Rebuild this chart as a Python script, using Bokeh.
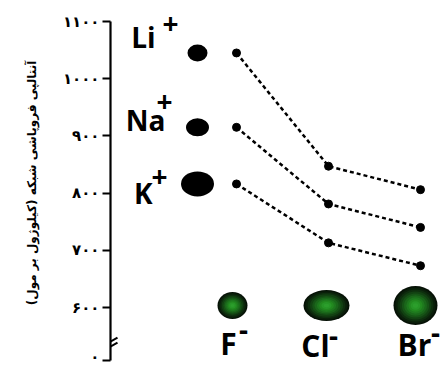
from bokeh.plotting import figure
from bokeh.models import FixedTicker, Range1d, Title
from bokeh.core.properties import value
from bokeh.embed import file_html
from bokeh.resources import INLINE

# ---------------- data ----------------
cations = ["Li", "Na", "K"]
anions = ["F", "Cl", "Br"]
li_values = [1045, 847, 806]   # LiF, LiCl, LiBr
na_values = [915, 781, 740]    # NaF, NaCl, NaBr
k_values = [816, 713, 673]     # KF, KCl, KBr
y_ticks = [600, 700, 800, 900, 1000, 1100]
y_tick_labels = ["۶۰۰", "۷۰۰", "۸۰۰", "۹۰۰", "۱۰۰۰", "۱۱۰۰"]
zero_label = "۰"
y_label = "آنتالپی فروپاشی شبکه (کیلوژول بر مول)"

# ---------------- layout / style constants ----------------
PX_X = 92.0          # screen px per anion step
PX_Y = 0.572         # screen px per kJ/mol
ZERO_TICK = 507      # position of the broken-axis "0" tick
BREAK_Y = 536        # where the axis break marks sit
ANION_ROW = 603.5    # vertical level of the anion spheres
CATION_X = 1 - 39 / PX_X
anion_x = [1, 2, 3]
x_start = 1 - 126 / PX_X
x_end = x_start + 337 / PX_X

p = figure(width=447, height=365,
           x_range=Range1d(x_start, x_end),
           y_range=Range1d(600 - 58 / PX_Y, 1100 + 21 / PX_Y),
           x_axis_location=None, y_axis_location="left",
           toolbar_location=None, output_backend="svg",
           min_border_left=110, min_border_right=0,
           min_border_top=0, min_border_bottom=0)
p.outline_line_color = None
p.grid.visible = False
p.background_fill_color = "white"
p.border_fill_color = "white"

ax = p.yaxis[0]
ax.ticker = FixedTicker(ticks=[ZERO_TICK] + y_ticks)
overrides = {t: l for t, l in zip(y_ticks, y_tick_labels)}
overrides[ZERO_TICK] = zero_label
ax.major_label_overrides = overrides
ax.bounds = (ZERO_TICK, y_ticks[-1])
ax.axis_line_width = 2.2
ax.axis_line_color = "black"
ax.major_tick_line_width = 2
ax.major_tick_line_color = "black"
ax.major_tick_out = 8
ax.major_tick_in = 0
ax.minor_tick_line_color = None
ax.major_label_standoff = 3
ax.major_label_text_font = "DejaVu Sans"
ax.major_label_text_font_style = "bold"
ax.major_label_text_font_size = "15px"
ax.major_label_text_color = "black"

# vertical quantity label, left of the axis
p.add_layout(Title(text=y_label, align="center", offset=-36, standoff=42,
                   text_font="DejaVu Sans", text_font_style="bold",
                   text_font_size="12px", text_color="black"), "left")

# axis break marks
gap_half = 2.5 / PX_Y
p.quad(left=[x_start - 3 / PX_X], right=[x_start + 3 / PX_X],
       bottom=[BREAK_Y - gap_half], top=[BREAK_Y + gap_half],
       fill_color="white", line_color=None)
for dy in (-gap_half, gap_half):
    p.segment(x0=[x_start - 7 / PX_X], y0=[BREAK_Y + dy - 4 / PX_Y],
              x1=[x_start + 7 / PX_X], y1=[BREAK_Y + dy + 4 / PX_Y],
              line_color="black", line_width=2)

# dashed series
for vals in (li_values, na_values, k_values):
    p.line(anion_x, vals, line_dash="4 3", line_width=2.5, line_color="black")
    p.scatter(anion_x, vals, size=8, color="black")

# cation spheres (at the level of each fluoride)
cation_y = [li_values[0], na_values[0], k_values[0]]
p.ellipse(x=[CATION_X] * 3, y=cation_y, width=[20, 23, 33], height=[17, 18, 25],
          width_units="screen", height_units="screen",
          fill_color="black", line_color=None)

# cation labels
p.text(x=[CATION_X] * 3, y=cation_y, text=cations,
       x_offset=[-42, -32, -45], y_offset=[-16, -7, 9],
       text_font=value("Open Sans"), text_font_style="bold",
       text_font_size="28px", text_align="right", text_baseline="middle",
       text_color="black")
p.text(x=[CATION_X] * 3, y=cation_y, text=["+"] * 3,
       x_offset=[-27, -33, -38], y_offset=[-29, -26, -7],
       text_font=value("Open Sans"), text_font_style="bold",
       text_font_size="28px", text_align="center", text_baseline="middle",
       text_color="black")

# anion spheres: layered ellipses imitating a radial gradient
sphere_dx = [-4 / PX_X, -2 / PX_X, -5 / PX_X]
sphere_w = [30, 46, 44]
sphere_h = [27, 31, 39]
layers = [(1.00, "#061106"), (0.92, "#0a1e0a"), (0.82, "#0e2e0e"),
          (0.72, "#124112"), (0.62, "#165416"), (0.52, "#1a671a"),
          (0.42, "#1e781e"), (0.32, "#22881f"), (0.22, "#279627"),
          (0.12, "#2c9e2c")]
for f, c in layers:
    p.ellipse(x=[a + d for a, d in zip(anion_x, sphere_dx)], y=[ANION_ROW] * 3,
              width=[w * f for w in sphere_w], height=[h * f for h in sphere_h],
              width_units="screen", height_units="screen",
              fill_color=c, line_color=None)

# anion labels
p.text(x=anion_x, y=[ANION_ROW] * 3, text=anions,
       x_offset=[-8, -13, -6], y_offset=[38, 40, 39],
       text_font=value("Open Sans"), text_font_style="bold",
       text_font_size="30px", text_align="center", text_baseline="middle",
       text_color="black")
p.text(x=anion_x, y=[ANION_ROW] * 3, text=["-"] * 3,
       x_offset=[7, 5, 15], y_offset=[24, 30, 27],
       text_font=value("Open Sans"), text_font_style="bold",
       text_font_size="28px", text_align="center", text_baseline="middle",
       text_color="black")

open("out.html", "w").write(file_html(p, INLINE))
